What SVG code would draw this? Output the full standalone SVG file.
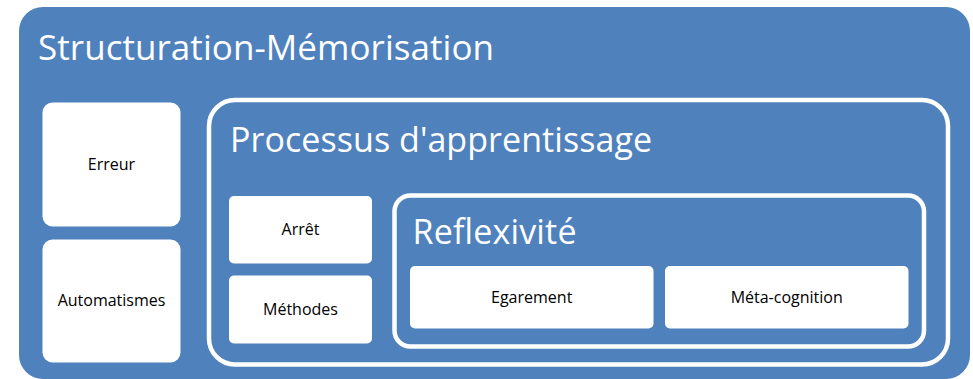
<svg xmlns="http://www.w3.org/2000/svg" width="973" height="379" viewBox="0 0 973 379">
<style>
.bg{fill:#4F81BD}
.frame{fill:#4F81BD;stroke:#FFFFFF;stroke-width:4.5}
.box{fill:#FFFFFF}
.big{font-family:"Open Sans","Noto Sans",sans-serif;fill:#FFFFFF}
.lbl{font-family:"Open Sans","Noto Sans",sans-serif;font-size:16px;fill:#000000;text-anchor:middle}
</style>
<rect width="973" height="379" fill="#FFFFFF"/>
<g id="structuration">
<rect class="bg" x="19" y="7" width="951" height="372" rx="24" ry="24"/>
<text class="big" x="38" y="60" font-size="35" textLength="456">Structuration-Mémorisation</text>
</g>
<g id="erreur">
<rect class="box" x="42.5" y="102.5" width="138" height="124" rx="10"/>
<text class="lbl" x="111.5" y="170">Erreur</text>
</g>
<g id="automatismes">
<rect class="box" x="42.5" y="239.5" width="138" height="123" rx="10"/>
<text class="lbl" x="111.5" y="306">Automatismes</text>
</g>
<g id="processus">
<rect class="frame" x="209" y="100" width="739" height="264.5" rx="26" ry="26"/>
<text class="big" x="230" y="152" font-size="34" textLength="422">Processus d'apprentissage</text>
</g>
<g id="arret">
<rect class="box" x="229" y="196" width="143" height="67.5" rx="5"/>
<text class="lbl" x="300.5" y="235">Arrêt</text>
</g>
<g id="methodes">
<rect class="box" x="229" y="275.5" width="143" height="68" rx="5"/>
<text class="lbl" x="300.5" y="315">Méthodes</text>
</g>
<g id="reflexivite">
<rect class="frame" x="394.5" y="195.5" width="529.5" height="151" rx="16" ry="16"/>
<text class="big" x="412.5" y="244" font-size="34" textLength="164">Reflexivité</text>
</g>
<g id="egarement">
<rect class="box" x="410" y="266" width="243.5" height="62.5" rx="5"/>
<text class="lbl" x="531.7" y="303">Egarement</text>
</g>
<g id="metacognition">
<rect class="box" x="665" y="266" width="243.5" height="62.5" rx="5"/>
<text class="lbl" x="786.7" y="303">Méta-cognition</text>
</g>
<g id="connectors"></g>
</svg>
